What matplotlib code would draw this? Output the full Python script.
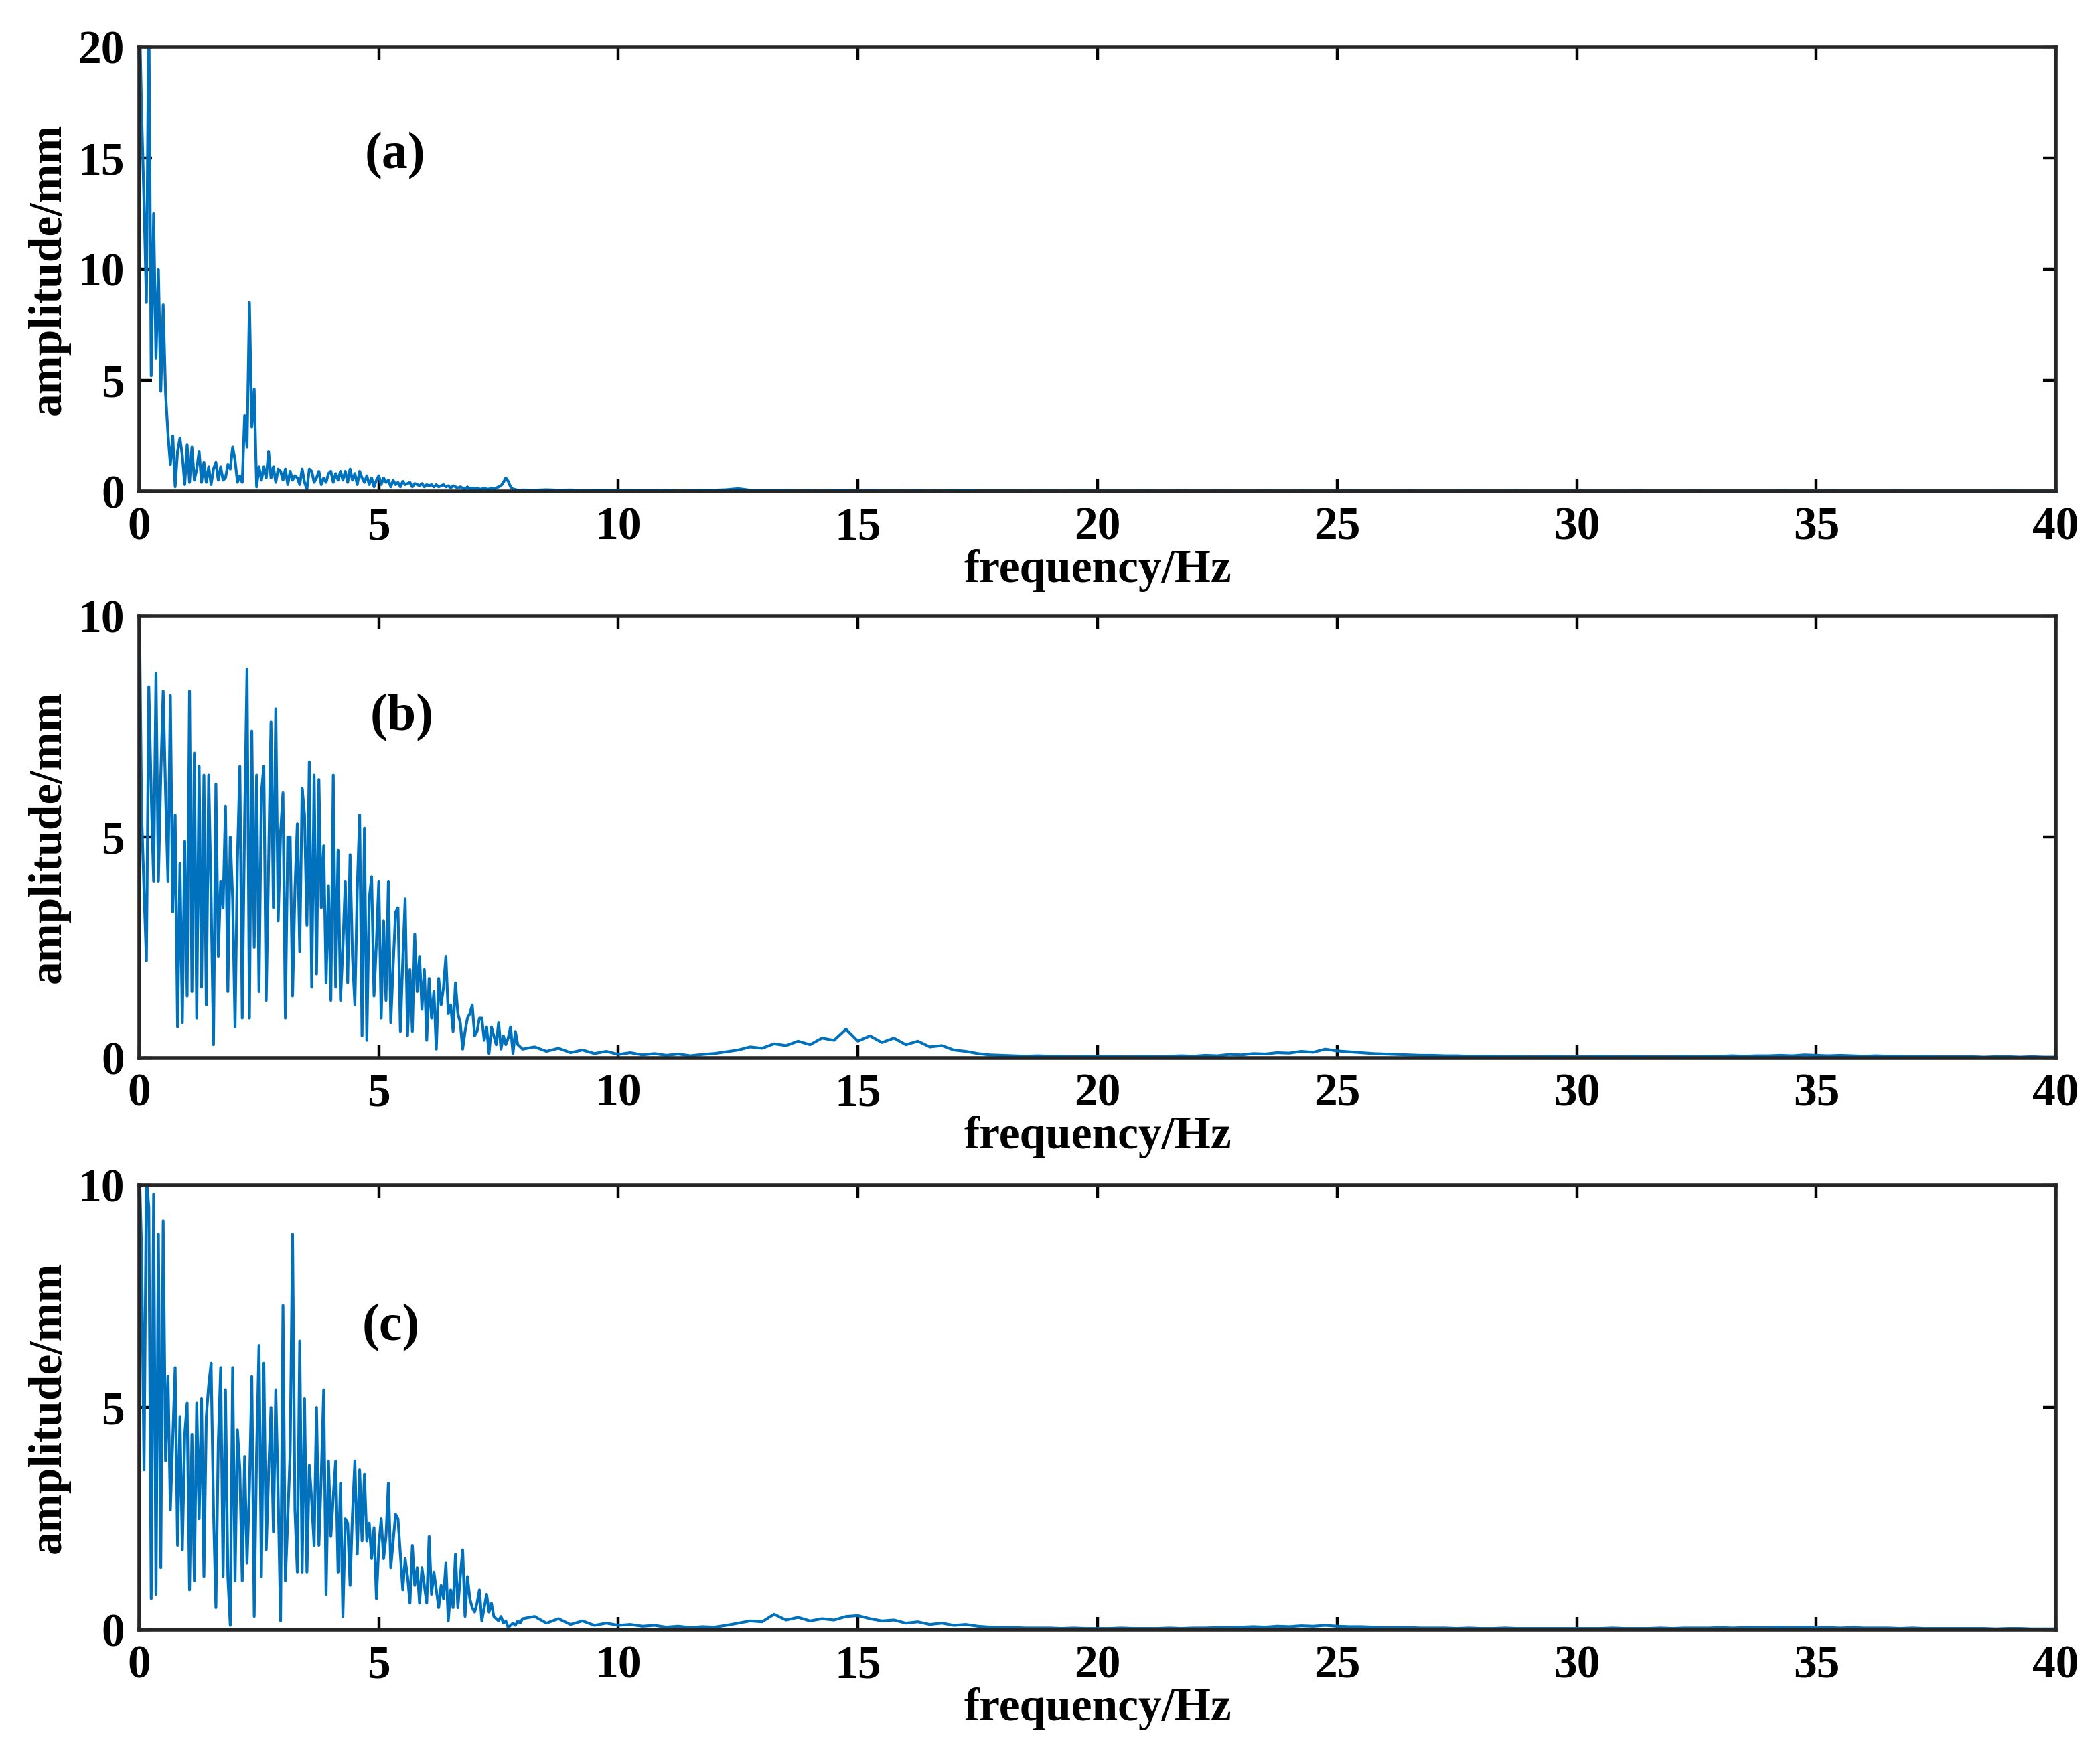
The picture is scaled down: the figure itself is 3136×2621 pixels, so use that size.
import numpy as np
import matplotlib.pyplot as plt

# frequency bins: fine bins up to 8 Hz, coarse bins for the quiet tail
freq_low = np.round(np.arange(0, 8, 0.05), 2)
freq_tail = np.arange(8, 40.01, 0.25)

# (a) amplitude/mm, 0.00 - 7.95 Hz
amp_a_low = [
    22, 17, 13, 8.5, 22, 5.2, 12.5, 6.0, 10.0, 4.5,
    8.4, 4.4, 2.6, 1.2, 2.5, 0.2, 1.8, 2.4, 1.6, 0.3,
    2.1, 0.4, 2.0, 0.5, 1.0, 1.8, 0.4, 1.3, 0.4, 1.1,
    0.3, 1.0, 1.3, 0.5, 1.1, 0.5, 0.6, 1.2, 1.0, 2.0,
    1.4, 0.4, 0.7, 0.4, 3.4, 2.0, 8.5, 2.9, 4.6, 0.2,
    1.1, 0.5, 1.1, 0.6, 1.8, 0.6, 1.1, 0.4, 1.0, 0.9,
    0.5, 1.0, 0.3, 0.9, 0.5, 0.7, 0.6, 0.3, 1.0, 0.4,
    0.1, 1.0, 0.9, 0.4, 0.6, 0.9, 0.3, 0.6, 0.4, 0.8,
    0.9, 0.4, 0.8, 0.5, 0.9, 0.5, 0.9,
    0.4, 1.0, 0.5, 0.8, 0.3, 0.9, 0.6, 0.4, 0.7, 0.3,
    0.6, 0.2, 0.5, 0.7, 0.3, 0.6, 0.4, 0.5, 0.2, 0.5,
    0.3, 0.4, 0.2, 0.45, 0.3, 0.35, 0.4, 0.2, 0.35, 0.3,
    0.25, 0.35, 0.2, 0.3, 0.25, 0.3, 0.2, 0.3, 0.2, 0.25,
    0.3, 0.2, 0.25, 0.15, 0.25, 0.2, 0.15, 0.2, 0.15, 0.1,
    0.2, 0.1, 0.15, 0.1, 0.15, 0.1, 0.1, 0.15, 0.1, 0.1,
    0.15, 0.1, 0.15, 0.2, 0.25, 0.4, 0.6, 0.45, 0.2, 0.1,
    0.08, 0.05, 0.05]
# (a) 8 - 40 Hz
amp_a_tail = [
    0.06, 0.05, 0.07, 0.05, 0.06, 0.04, 0.05, 0.05,
    0.04, 0.05, 0.04, 0.04, 0.05, 0.03, 0.04, 0.05,
    0.05, 0.07, 0.12, 0.05, 0.04, 0.04, 0.05, 0.03,
    0.04, 0.03, 0.04, 0.04, 0.03, 0.04, 0.03, 0.03,
    0.03, 0.04, 0.03, 0.03, 0.04, 0.05, 0.03, 0.03,
    0.03, 0.03, 0.02, 0.03, 0.03, 0.02, 0.03, 0.03,
    0.02, 0.03, 0.02, 0.02, 0.03, 0.02, 0.02, 0.03,
    0.02, 0.02, 0.03, 0.02, 0.02, 0.02, 0.03, 0.02,
    0.02, 0.03, 0.02, 0.02, 0.02, 0.03, 0.02, 0.02,
    0.02, 0.02, 0.03, 0.02, 0.02, 0.02, 0.02, 0.03,
    0.02, 0.02, 0.02, 0.03, 0.02, 0.02, 0.02, 0.02,
    0.03, 0.02, 0.02, 0.02, 0.02, 0.03, 0.02, 0.02,
    0.02, 0.02, 0.03, 0.02, 0.02, 0.02, 0.02, 0.02,
    0.02, 0.03, 0.02, 0.02, 0.02, 0.03, 0.02, 0.02,
    0.02, 0.02, 0.02, 0.03, 0.02, 0.02, 0.02, 0.02,
    0.02, 0.02, 0.02, 0.02, 0.03, 0.02, 0.02, 0.02,
    0.02]

# (b) amplitude/mm, 0.00 - 7.95 Hz
amp_b_low = [
    10.5, 5.5, 3.8, 2.2, 8.4, 6.0, 4.0, 8.7, 4.0, 6.4,
    8.3, 6.0, 4.0, 8.2, 3.3, 5.5, 0.7, 4.4, 0.8, 4.9,
    1.4, 8.3, 1.5, 6.9, 0.9, 6.6, 1.6, 6.4, 1.2, 6.4,
    3.6, 0.3, 6.2, 2.3, 4.0, 3.4, 5.7, 1.5, 5.0, 3.6,
    0.7, 4.5, 6.6, 0.9, 5.4, 8.8, 0.9, 7.4, 2.5, 6.4,
    1.5, 6.0, 6.6, 1.3, 4.4, 7.6, 3.4, 7.9, 3.1, 5.1,
    6.0, 0.9, 5.0, 5.0, 1.4, 3.8, 5.3, 2.4, 6.1, 5.5,
    3.0, 6.7, 1.6, 6.4, 1.9, 6.3, 3.4, 4.8, 1.7, 3.9,
    1.3, 6.4, 1.6, 4.7, 1.3, 2.5, 4.0, 1.7,
    4.6, 2.3, 1.2, 3.8, 5.5, 0.5, 5.2, 0.4, 3.6, 4.1,
    1.4, 2.6, 4.0, 0.9, 3.1, 1.3, 4.0, 0.8, 2.1, 3.3,
    3.4, 0.6, 2.2, 3.6, 0.5, 2.0, 0.6, 2.8, 1.5, 2.3,
    1.1, 2.0, 0.4, 1.8, 0.9, 1.5, 0.2, 1.8, 1.2, 1.6,
    2.3, 1.0, 1.2, 0.6, 1.7, 1.0, 0.8, 0.2, 0.6, 0.9,
    1.0, 1.2, 0.5, 0.6, 0.9, 0.9, 0.4, 0.7, 0.1, 0.7,
    0.5, 0.3, 0.8, 0.2, 0.5, 0.3, 0.45, 0.7, 0.1, 0.6,
    0.3, 0.25]
# (b) 8 - 40 Hz
amp_b_tail = [
    0.2, 0.25, 0.15, 0.22, 0.12, 0.18, 0.1, 0.15,
    0.08, 0.12, 0.07, 0.1, 0.06, 0.09, 0.05, 0.08,
    0.1, 0.14, 0.18, 0.25, 0.22, 0.32, 0.28, 0.38,
    0.3, 0.45, 0.4, 0.65, 0.38, 0.5, 0.35, 0.45,
    0.3, 0.38, 0.25, 0.28, 0.18, 0.15, 0.1, 0.07,
    0.06, 0.05, 0.04, 0.05, 0.04, 0.04, 0.03, 0.04,
    0.03, 0.04, 0.03, 0.03, 0.04, 0.03, 0.04, 0.05,
    0.04, 0.06, 0.05, 0.08, 0.07, 0.1, 0.09, 0.12,
    0.11, 0.15, 0.13, 0.2, 0.16, 0.14, 0.12, 0.1,
    0.09, 0.08, 0.07, 0.06, 0.06, 0.05, 0.05, 0.04,
    0.04, 0.04, 0.03, 0.04, 0.03, 0.03, 0.04, 0.03,
    0.03, 0.03, 0.04, 0.03, 0.03, 0.04, 0.03, 0.03,
    0.03, 0.04, 0.03, 0.04, 0.04, 0.05, 0.04, 0.05,
    0.05, 0.06, 0.05, 0.07, 0.06, 0.05, 0.06, 0.05,
    0.04, 0.05, 0.04, 0.04, 0.03, 0.04, 0.03, 0.03,
    0.03, 0.03, 0.02, 0.03, 0.03, 0.02, 0.03, 0.02,
    0.02]

# (c) amplitude/mm, 0.00 - 7.95 Hz
amp_c_low = [
    10.5, 8.5, 3.6, 10.2, 9.5, 0.7, 9.8, 0.8, 8.9, 1.4,
    9.2, 3.8, 5.7, 2.7, 4.3, 5.9, 1.9, 4.8, 1.8, 4.4,
    5.1, 0.9, 4.4, 1.1, 5.1, 2.5, 5.2, 1.2, 4.8, 5.5,
    6.0, 2.7, 0.5, 4.2, 5.9, 1.2, 5.4, 1.2, 0.1, 5.9,
    1.1, 4.5, 3.6, 1.1, 3.9, 1.5, 3.2, 5.7, 0.3, 4.0,
    6.4, 1.2, 6.0, 1.8, 3.5, 5.0, 2.2, 5.4, 3.0, 0.2,
    7.3, 1.1, 2.5, 4.0, 8.9, 2.7, 1.3, 6.5, 1.3, 5.2,
    1.3, 3.7, 2.9, 1.9, 5.0, 1.9, 3.5, 5.4, 0.8, 3.8,
    2.1, 3.0, 3.8, 1.3, 3.3, 0.3, 2.5, 2.4,
    1.0, 2.6, 3.8, 1.7, 3.6, 2.0, 3.5, 2.0, 2.4, 1.6,
    2.3, 0.7, 1.9, 2.5, 1.6, 2.1, 3.3, 1.4, 2.0, 2.6,
    2.5, 1.7, 0.9, 1.6, 1.2, 0.6, 1.9, 1.0, 1.4, 0.6,
    1.4, 1.0, 0.6, 2.1, 0.8, 1.3, 0.9, 0.5, 1.0, 0.7,
    1.5, 0.2, 0.9, 0.5, 1.7, 0.5, 1.2, 1.8, 0.3, 1.2,
    0.7, 0.5, 0.4, 0.6, 0.9, 0.2, 0.5, 0.8, 0.4, 0.6,
    0.3, 0.25, 0.2, 0.3, 0.15, 0.2, 0.05, 0.1, 0.15, 0.1,
    0.2, 0.15]
# (c) 8 - 40 Hz
amp_c_tail = [
    0.25, 0.3, 0.15, 0.25, 0.12, 0.2, 0.1, 0.15,
    0.1, 0.12, 0.08, 0.1, 0.06, 0.08, 0.05, 0.07,
    0.06, 0.1, 0.15, 0.2, 0.18, 0.35, 0.22, 0.28,
    0.2, 0.25, 0.22, 0.3, 0.32, 0.25, 0.2, 0.22,
    0.15, 0.18, 0.12, 0.15, 0.1, 0.12, 0.08, 0.06,
    0.05, 0.05, 0.04, 0.04, 0.04, 0.03, 0.04, 0.03,
    0.03, 0.03, 0.04, 0.03, 0.03, 0.03, 0.04, 0.03,
    0.04, 0.04, 0.05, 0.05, 0.06, 0.07, 0.06, 0.08,
    0.07, 0.09, 0.08, 0.1, 0.08, 0.07, 0.07, 0.06,
    0.05, 0.05, 0.05, 0.04, 0.04, 0.04, 0.03, 0.04,
    0.03, 0.03, 0.04, 0.03, 0.03, 0.03, 0.03, 0.03,
    0.03, 0.03, 0.03, 0.04, 0.03, 0.03, 0.03, 0.04,
    0.03, 0.04, 0.04, 0.04, 0.05, 0.04, 0.05, 0.05,
    0.05, 0.06, 0.05, 0.06, 0.05, 0.05, 0.04, 0.05,
    0.04, 0.04, 0.04, 0.03, 0.04, 0.03, 0.03, 0.03,
    0.03, 0.03, 0.03, 0.02, 0.03, 0.03, 0.02, 0.02,
    0.02]

panel_labels = ['(a)', '(b)', '(c)']
y_max = [20, 10, 10]
y_ticks = [[0, 5, 10, 15, 20], [0, 5, 10], [0, 5, 10]]
x_ticks = [0, 5, 10, 15, 20, 25, 30, 35, 40]
x_label = 'frequency/Hz'
y_label = 'amplitude/mm'

plt.rcParams['font.family'] = ['Liberation Serif', 'DejaVu Serif']
plt.rcParams['font.weight'] = 'bold'

fig = plt.figure(figsize=(15.68, 13.105), dpi=200)

# axes boxes in figure fraction (left, bottom, width, height)
boxes = [(0.0663, 0.7200, 0.9127, 0.2533),
         (0.0663, 0.3972, 0.9127, 0.2518),
         (0.0663, 0.0713, 0.9127, 0.2533)]
# where the (a)/(b)/(c) tags sit, in data units
tag_xy = [(5.34, 15.1), (5.48, 7.7), (5.25, 6.8)]

amps = [(amp_a_low, amp_a_tail), (amp_b_low, amp_b_tail), (amp_c_low, amp_c_tail)]

for i in range(3):
    ax = fig.add_axes(boxes[i])
    low, tail = amps[i]
    freq = np.concatenate([freq_low, freq_tail])
    amp = np.concatenate([low, tail])
    ax.plot(freq, amp, color='#0072BD', linewidth=1.5)

    ax.set_xlim(0, 40)
    ax.set_ylim(0, y_max[i])
    ax.set_xticks(x_ticks)
    ax.set_yticks(y_ticks[i])
    ax.tick_params(direction='in', top=True, right=True, length=7, width=1.6,
                   pad=8, labelsize=25, colors='black')
    for s in ax.spines.values():
        s.set_linewidth(2.0)
        s.set_color('#262626')

    ax.set_xlabel(x_label, fontsize=25, fontweight='bold', labelpad=0)
    ax.set_ylabel(y_label, fontsize=25, fontweight='bold', labelpad=4)
    ax.text(tag_xy[i][0], tag_xy[i][1], panel_labels[i], fontsize=28,
            fontweight='bold', ha='center', va='center')

fig.savefig('out.png', dpi=200)
